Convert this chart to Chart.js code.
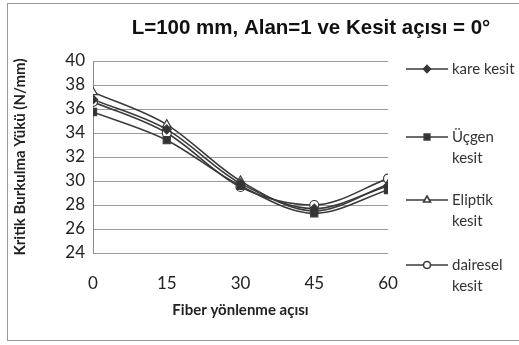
<!DOCTYPE html>
<html>
<head>
<meta charset="utf-8">
<script src="https://cdn.jsdelivr.net/npm/chart.js@4/dist/chart.umd.min.js"></script>
<style>
  html, body { margin: 0; padding: 0; background: #fff; }
  #wrap { width: 519px; height: 345px; position: relative; }
</style>
</head>
<body>
<div id="wrap"><canvas id="grafica"></canvas></div>
<script>
// Datos
const aciler = [0, 15, 30, 45, 60];
const kare = [36.8, 34.3, 29.8, 27.7, 29.6];
const ucgen = [35.75, 33.4, 29.6, 27.3, 29.25];
const eliptik = [37.4, 34.7, 30.0, 27.5, 29.7];
const dairesel = [36.6, 34.0, 29.5, 28.0, 30.2];

const seriler = [
    { label: ['kare kesit'], data: kare, estilo: 'rectRot', radio: 4.5, relleno: '#333' },
    { label: ['Üçgen', 'kesit'], data: ucgen, estilo: 'rect', radio: 5, relleno: '#333' },
    { label: ['Eliptik', 'kesit'], data: eliptik, estilo: 'triangle', radio: 5, relleno: '#fff' },
    { label: ['dairesel', 'kesit'], data: dairesel, estilo: 'circle', radio: 4.5, relleno: '#fff' }
];
const leyendaY = [69, 137, 200, 265];

const colorLinea = '#3a3a3a';
const fuenteTexto = 'Lato, "Open Sans", sans-serif';

// Título, borde y leyenda dibujados a mano
const extras = {
    id: 'extras',
    afterDraw(chart) {
        const ctx = chart.ctx;
        ctx.save();
        // borde exterior
        ctx.strokeStyle = '#9a9a9a';
        ctx.lineWidth = 1;
        ctx.strokeRect(7.5, 3.5, 520, 337);
        // título
        ctx.fillStyle = '#111';
        ctx.font = 'bold 20.5px "Liberation Sans", Arial, sans-serif';
        ctx.textAlign = 'center';
        ctx.textBaseline = 'middle';
        ctx.fillText('L=100 mm, Alan=1 ve Kesit açısı = 0°', 311, 28);
        // leyenda
        ctx.textAlign = 'left';
        ctx.font = '15px ' + fuenteTexto;
        seriler.forEach((s, i) => {
            const y = leyendaY[i];
            ctx.strokeStyle = colorLinea;
            ctx.lineWidth = 1.6;
            ctx.beginPath();
            ctx.moveTo(406, y);
            ctx.lineTo(448, y);
            ctx.stroke();
            ctx.fillStyle = s.relleno;
            Chart.helpers.drawPoint(ctx, { pointStyle: s.estilo, radius: s.radio - 1, borderWidth: 1.2 }, 427, y);
            ctx.fillStyle = '#333';
            s.label.forEach((t, k) => ctx.fillText(t, 452, y + k * 21));
        });
        ctx.restore();
    }
};

new Chart(document.getElementById('grafica'), {
    type: 'line',
    data: {
        datasets: seriler.map(s => ({
            label: s.label.join(' '),
            data: aciler.map((x, i) => ({ x: x, y: s.data[i] })),
            borderColor: colorLinea,
            borderWidth: 1.6,
            pointStyle: s.estilo,
            pointRadius: s.radio,
            pointBackgroundColor: s.relleno,
            pointBorderColor: colorLinea,
            pointBorderWidth: 1.2,
            tension: 0.4,
            cubicInterpolationMode: 'monotone',
            fill: false
        }))
    },
    options: {
        responsive: true,
        maintainAspectRatio: false,
        animation: false,
        layout: { padding: { top: 61, right: 131, bottom: 4, left: 11 } },
        plugins: {
            legend: { display: false },
            title: { display: false },
            tooltip: { enabled: false }
        },
        scales: {
            x: {
                type: 'linear',
                min: 0,
                max: 60,
                ticks: { stepSize: 15, color: '#222', font: { family: fuenteTexto, size: 17 }, padding: 20 },
                grid: { display: false, drawTicks: false },
                border: { display: false },
                title: {
                    display: true,
                    text: 'Fiber yönlenme açısı',
                    color: '#222',
                    font: { family: fuenteTexto, size: 15, weight: 'bold' },
                    padding: { top: 0, bottom: 22 }
                },
                afterFit(scale) { scale.height = 88; }
            },
            y: {
                min: 24,
                max: 40,
                ticks: { stepSize: 2, color: '#222', font: { family: fuenteTexto, size: 17 }, padding: 8 },
                grid: { color: '#9a9a9a', lineWidth: 1, drawTicks: false },
                border: { display: true, color: '#8a8a8a' },
                title: {
                    display: true,
                    text: 'Kritik Burkulma Yükü (N/mm)',
                    color: '#222',
                    font: { family: fuenteTexto, size: 15, weight: 'bold' },
                    padding: { top: 0, bottom: 4 }
                },
                afterFit(scale) { scale.width = 82; }
            }
        }
    },
    plugins: [extras]
});
</script>
</body>
</html>
